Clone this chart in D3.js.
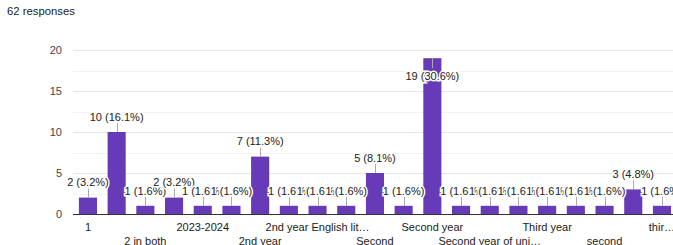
<!DOCTYPE html>
<html>
<head>
<meta charset="utf-8">
<script src="https://cdn.jsdelivr.net/npm/d3@7"></script>
<style>
  body { margin: 0; background: #fff; }
  svg { font-family: "Liberation Sans", Arial, sans-serif; }
</style>
</head>
<body>
<svg width="673" height="245"></svg>
<script>
/* answers, in the order the form sorts them (every other label is hidden) */
var categories = ["1", "2", "2 in both", "2022-2023", "2023-2024", "2nd", "2nd year", "2nd year BA",
  "2nd year English lit…", "3rd year", "Second", "Second Year", "Second year", "Second year BA",
  "Second year of uni…", "Second yr", "Third year", "Third year student", "second", "second year", "thir…"];
var counts = [2, 10, 1, 2, 1, 1, 7, 1, 1, 1, 5, 1, 19, 1, 1, 1, 1, 1, 1, 3, 1];
var yTicks = [0, 5, 10, 15, 20];
var total = 62;

var svg = d3.select("svg");

svg.append("text")
  .attr("x", 7).attr("y", 15)
  .style("font-size", "11.3px").style("fill", "#202124")
  .text(total + " responses");

var x = d3.scaleBand().domain(categories).range([73.6, 676.3]).paddingInner(0.37).paddingOuter(0.185);
var y = d3.scaleLinear().domain([0, 20]).range([214, 50]);

// grid lines, light ones in between the ticks
var grid = d3.range(0, 20.1, 2.5);
svg.selectAll(".grid").data(grid).enter().append("line")
  .attr("x1", 73).attr("x2", 673)
  .attr("y1", function(d){ return Math.round(y(d)) + 0.5; })
  .attr("y2", function(d){ return Math.round(y(d)) + 0.5; })
  .style("stroke", function(d){ return d % 5 == 0 ? "#e6e6e6" : "#f2f2f2"; });

svg.selectAll(".ytick").data(yTicks).enter().append("text")
  .attr("x", 62).attr("y", function(d){ return y(d); })
  .attr("dy", "0.35em").attr("text-anchor", "end")
  .style("font-size", "11px").style("fill", "#444")
  .text(function(d){ return d; });

svg.selectAll(".bar").data(counts).enter().append("rect")
  .attr("x", function(d, i){ return x(categories[i]); })
  .attr("y", function(d){ return y(d); })
  .attr("width", x.bandwidth())
  .attr("height", function(d){ return y(0) - y(d); })
  .style("fill", "#673ab7");

svg.append("line")
  .attr("x1", 73).attr("x2", 673)
  .attr("y1", Math.round(y(0)) + 0.5).attr("y2", Math.round(y(0)) + 0.5)
  .style("stroke", "#333");

// value labels with leader lines, drawn in order so later ones cover earlier ones
counts.forEach(function(d, i){
  var cx = x(categories[i]) + x.bandwidth() / 2;
  var top = y(d);
  var inside = top - 22 < 50;
  var g = svg.append("g");
  g.append("line")
    .attr("x1", Math.round(cx) + 0.5).attr("x2", Math.round(cx) + 0.5)
    .attr("y1", top).attr("y2", inside ? top + 10 : top - 9)
    .style("stroke", "#aaa");
  g.append("text")
    .attr("x", cx).attr("y", inside ? top + 18 : top - 15)
    .attr("dy", "0.35em").attr("text-anchor", "middle")
    .style("font-size", "11px").style("fill", "#222")
    .style("stroke", "#fff").style("stroke-width", 3).style("paint-order", "stroke")
    .text(d + " (" + (d / total * 100).toFixed(1) + "%)");
});

// category labels: every other one, alternating in two rows
svg.selectAll(".xlab").data(categories).enter()
  .filter(function(d, i){ return i % 2 == 0; })
  .append("text")
  .attr("x", function(d){ return x(d) + x.bandwidth() / 2; })
  .attr("y", function(d){ var i = categories.indexOf(d); return (i / 2) % 2 == 0 ? 231 : 245; })
  .attr("text-anchor", "middle")
  .style("font-size", "11px").style("fill", "#222")
  .text(function(d){ return d; });
</script>
</body>
</html>
